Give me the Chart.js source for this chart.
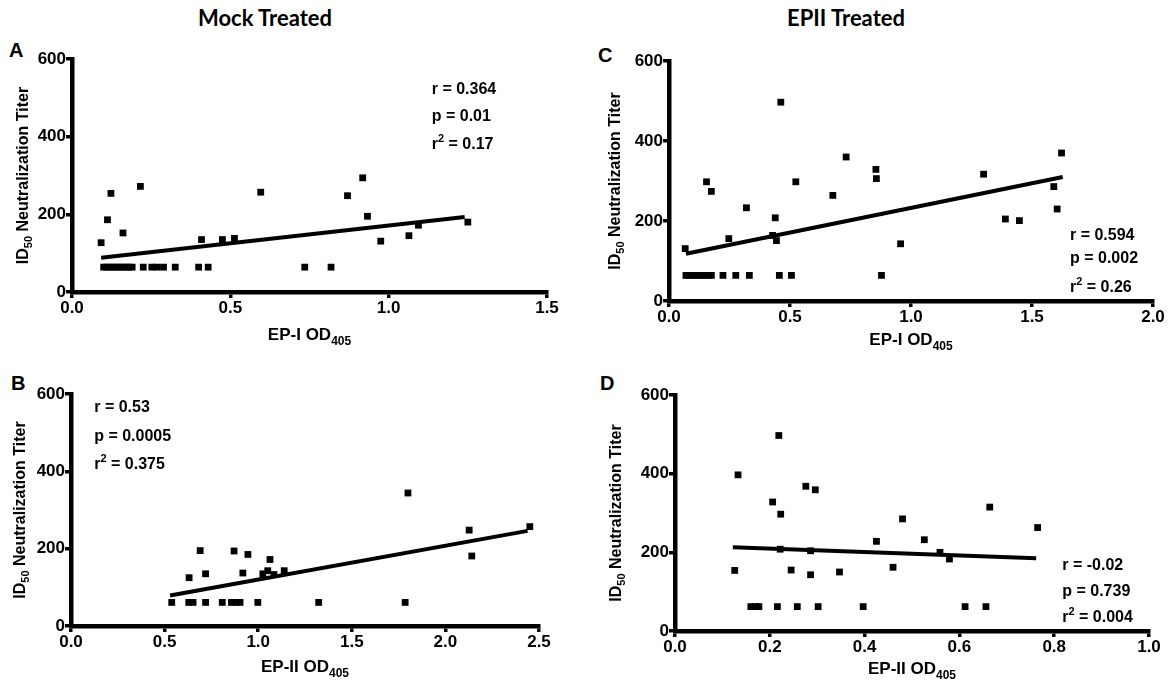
<!DOCTYPE html>
<html>
<head>
<meta charset="utf-8">
<script src="https://cdn.jsdelivr.net/npm/chart.js@4.4.1/dist/chart.umd.min.js"></script>
<style>
  html, body { margin:0; padding:0; background:#fff; }
  body { width:1168px; height:681px; overflow:hidden; position:relative; font-family:"Liberation Sans", Arial, sans-serif; }
  canvas { position:absolute; left:0; top:0; }
  .title { position:absolute; top:4px; font-family:Lato, "Open Sans", sans-serif; font-weight:700; font-size:22px; color:#000; transform:translateX(-50%); white-space:nowrap; }
  .letter { position:absolute; font-weight:700; font-size:20px; color:#000; line-height:20px; }
</style>
</head>
<body>
<div class="title" style="left:265px">Mock Treated</div>
<div class="title" style="left:846px">EPII Treated</div>
<div class="letter" style="left:9px;top:40px">A</div>
<div class="letter" style="left:11px;top:373px">B</div>
<div class="letter" style="left:598px;top:45px">C</div>
<div class="letter" style="left:600px;top:373px">D</div>
<canvas id="cA" width="1168" height="681"></canvas>
<canvas id="cB" width="1168" height="681"></canvas>
<canvas id="cC" width="1168" height="681"></canvas>
<canvas id="cD" width="1168" height="681"></canvas>
<script>
const FONT = '"Liberation Sans", Arial, sans-serif';

// ---------- shared tick labels ----------
const yTicks = [0, 200, 400, 600];

// ---------- Panel A: Mock treated, EP-I ----------
const aTicksX = [0, 0.5, 1.0, 1.5];
const aX = [0.092, 0.112, 0.123, 0.161, 0.216, 0.409, 0.475, 0.513, 0.596, 0.870, 0.918, 0.933, 0.975, 1.064, 1.094, 1.250,
            0.10, 0.11, 0.12, 0.13, 0.14, 0.15, 0.16, 0.17, 0.18, 0.19, 0.225, 0.252, 0.268, 0.289, 0.326, 0.400, 0.430, 0.735, 0.818];
const aY = [127, 186, 254, 152, 272, 135, 135, 138, 257, 248, 294, 195, 131, 145, 172, 180,
            64, 64, 64, 64, 64, 64, 64, 64, 64, 64, 64, 64, 64, 64, 64, 64, 64, 64, 64];
const aFitX = [0.092, 1.24];
const aFitY = [88, 193];
const aStats = ['0.364', '0.01', '0.17'];

// ---------- Panel B: Mock treated, EP-II ----------
const bTicksX = [0, 0.5, 1.0, 1.5, 2.0, 2.5];
const bX = [1.800, 2.127, 2.141, 2.451, 1.785, 1.323, 0.690, 0.871, 0.945, 1.063, 0.631, 0.719, 0.918, 1.025, 1.051, 1.084, 1.139,
            0.538, 0.629, 0.652, 0.719, 0.808, 0.857, 0.880, 0.903, 0.998];
const bY = [344, 248, 181, 257, 61, 61, 195, 194, 185, 172, 125, 135, 137, 135, 143, 133, 143,
            61, 61, 61, 61, 61, 61, 61, 61, 61];
const bFitX = [0.529, 2.439];
const bFitY = [79, 246];
const bStats = ['0.53', '0.0005', '0.375'];

// ---------- Panel C: EPII treated, EP-I ----------
const cTicksX = [0, 0.5, 1.0, 1.5, 2.0];
const cX = [0.067, 0.155, 0.175, 0.247, 0.320, 0.439, 0.428, 0.444, 0.462, 0.524, 0.677, 0.732, 0.855, 0.857, 0.957, 1.300, 1.390, 1.448, 1.590, 1.604, 1.622,
            0.070, 0.085, 0.100, 0.115, 0.130, 0.145, 0.160, 0.175, 0.223, 0.276, 0.332, 0.456, 0.506, 0.878];
const cY = [131, 298, 274, 156, 233, 208, 164, 151, 497, 298, 264, 360, 329, 306, 143, 317, 205, 201, 286, 230, 370,
            64, 64, 64, 64, 64, 64, 64, 64, 64, 64, 64, 64, 64, 64];
const cFitX = [0.07, 1.627];
const cFitY = [118, 310];
const cStats = ['0.594', '0.002', '0.26'];

// ---------- Panel D: EPII treated, EP-II ----------
const dTicksX = [0, 0.2, 0.4, 0.6, 0.8, 1.0];
const dX = [0.126, 0.133, 0.219, 0.206, 0.223, 0.222, 0.276, 0.296, 0.286, 0.245, 0.286, 0.347, 0.425, 0.460, 0.480, 0.526, 0.559, 0.579, 0.664, 0.765,
            0.160, 0.170, 0.177, 0.216, 0.258, 0.302, 0.397, 0.612, 0.656];
const dY = [154, 397, 497, 328, 297, 208, 368, 359, 204, 155, 143, 150, 228, 162, 285, 232, 200, 183, 315, 263,
            62, 62, 62, 62, 62, 62, 62, 62, 62];
const dFitX = [0.122, 0.762];
const dFitY = [213, 185];
const dStats = ['-0.02', '0.739', '0.004'];

// ---------- drawing helpers ----------
function drawRuns(ctx, runs, x, y, align) {
  let total = 0;
  runs.forEach(r => { ctx.font = 'bold ' + r[1] + 'px ' + FONT; r.w = ctx.measureText(r[0]).width; total += r.w; });
  let cx = align === 'center' ? x - total / 2 : x;
  const base = y + runs[0][1] * 0.36;
  ctx.textBaseline = 'alphabetic';
  ctx.textAlign = 'left';
  runs.forEach(r => { ctx.font = 'bold ' + r[1] + 'px ' + FONT; ctx.fillText(r[0], cx, base + (r[2] || 0)); cx += r.w; });
}

const decor = {
  id: 'decor',
  afterDraw(chart, args, o) {
    const ctx = chart.ctx, ca = chart.chartArea;
    ctx.save();
    ctx.fillStyle = '#000';
    // y-axis title
    ctx.save();
    ctx.translate(ca.left - o.yOff, (ca.top + ca.bottom) / 2);
    ctx.rotate(-Math.PI / 2);
    drawRuns(ctx, [['ID', 16], ['50', 11, 4], [' Neutralization Titer', 16]], 0, 0, 'center');
    ctx.restore();
    // x-axis title
    drawRuns(ctx, [[o.xLabel, 17], ['405', 12, 5]], (ca.left + ca.right) / 2, ca.bottom + o.xOff, 'center');
    // statistics
    const xs = chart.scales.x, ys = chart.scales.y;
    const px = xs.getPixelForValue(o.noteX);
    const s = o.stats;
    drawRuns(ctx, [['r = ' + s[0], 16]], px, ys.getPixelForValue(o.noteY[0]), 'left');
    drawRuns(ctx, [['p = ' + s[1], 16]], px, ys.getPixelForValue(o.noteY[1]), 'left');
    drawRuns(ctx, [['r', 16], ['2', 11, -7], [' = ' + s[2], 16]], px, ys.getPixelForValue(o.noteY[2]), 'left');
    ctx.restore();
  }
};

function axis(ticks, fmt, isX, size) {
  return {
    type: 'linear',
    min: ticks[0],
    max: ticks[ticks.length - 1],
    afterBuildTicks: s => { s.ticks = ticks.map(v => ({ value: v })); },
    afterFit: s => { if (isX) s.height = size; else s.width = size; },
    ticks: { callback: fmt, color: '#000', font: { family: FONT, size: 17, weight: 'bold' }, padding: 0, maxRotation: 0, autoSkip: false },
    grid: { drawOnChartArea: false, drawTicks: true, tickLength: 6, color: '#000', lineWidth: 3.5 },
    border: { display: true, color: '#000', width: 4.5 }
  };
}

function makeChart(id, box, ticksX, xs, ys, fx, fy, stats, noteX, noteY, xLabel, yOff, xOff) {
  const W = 60, H = 40;
  const pts = xs.map((x, i) => ({ x: x, y: ys[i] }));
  const fit = fx.map((x, i) => ({ x: x, y: fy[i] }));
  return new Chart(document.getElementById(id), {
    type: 'scatter',
    data: {
      datasets: [
        { data: pts, pointStyle: 'rect', pointRadius: 4.8, backgroundColor: '#000', borderWidth: 0, showLine: false },
        { type: 'line', data: fit, borderColor: '#000', borderWidth: 4, pointRadius: 0, fill: false, tension: 0 }
      ]
    },
    options: {
      responsive: false,
      animation: false,
      devicePixelRatio: 1,
      layout: { padding: { left: box[0] - W, top: box[1], right: 1168 - box[2], bottom: 681 - box[3] - H } },
      plugins: {
        legend: { display: false },
        tooltip: { enabled: false },
        decor: { stats: stats, noteX: noteX, noteY: noteY, xLabel: xLabel, yOff: yOff, xOff: xOff }
      },
      scales: {
        x: axis(ticksX, v => Number(v).toFixed(1), true, H),
        y: axis(yTicks, v => String(v), false, W)
      }
    },
    plugins: [decor]
  });
}

makeChart('cA', [72, 59, 547, 292], aTicksX, aX, aY, aFitX, aFitY, aStats, 1.136, [525, 455, 382], 'EP-I OD', 50, 42);
makeChart('cB', [71, 394, 539, 626], bTicksX, bX, bY, bFitX, bFitY, bStats, 0.124, [568, 494, 422], 'EP-II OD', 52, 40);
makeChart('cC', [669, 61, 1153, 301], cTicksX, cX, cY, cFitX, cFitY, cStats, 1.657, [168, 109, 36], 'EP-I OD', 55, 38);
makeChart('cD', [675, 395, 1149, 631], dTicksX, dX, dY, dFitX, dFitY, dStats, 0.817, [169, 103, 38], 'EP-II OD', 60, 37);
</script>
</body>
</html>
